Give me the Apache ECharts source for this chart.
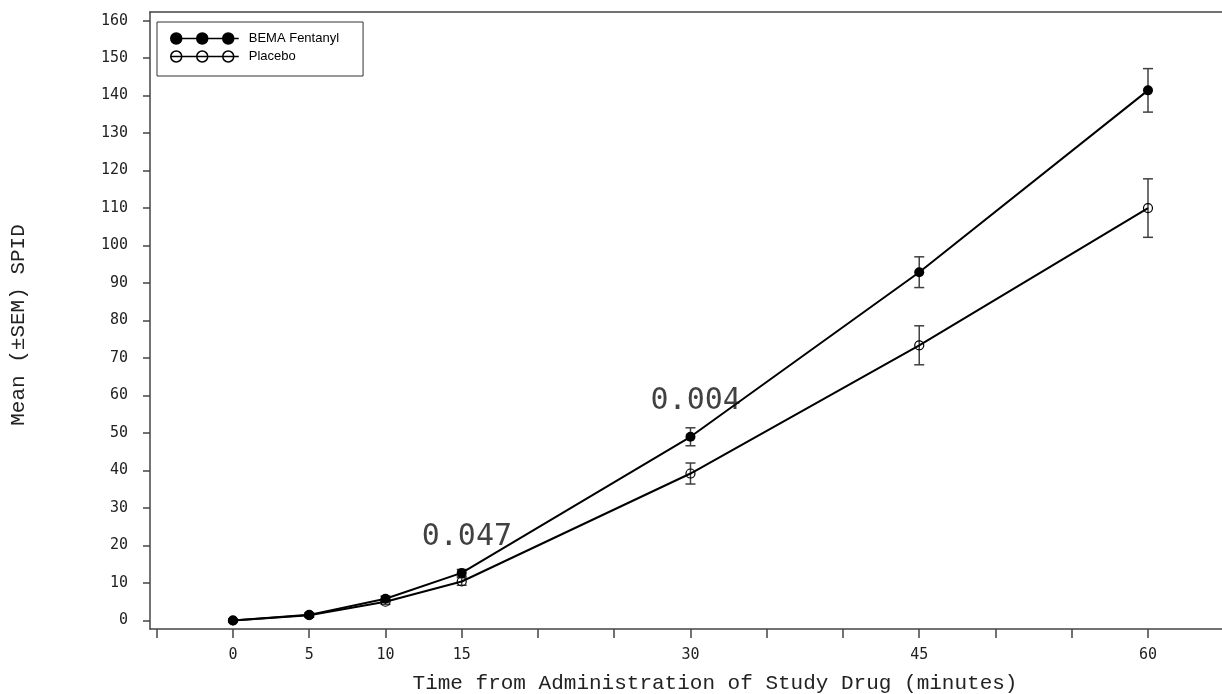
<!DOCTYPE html>
<html>
<head>
<meta charset="utf-8">
<script src="https://cdn.jsdelivr.net/npm/echarts@6/dist/echarts.min.js"></script>
<style>
  html, body { margin: 0; padding: 0; background: #fff; }
  #chart { width: 1222px; height: 694px; }
</style>
</head>
<body>
<div id="chart"></div>
<script>
// values
const seriesNames = ['BEMA Fentanyl', 'Placebo'];
const timePoints = [0, 5, 10, 15, 30, 45, 60];
const bemaMean = [0, 1.5, 5.8, 12.7, 49.0, 92.9, 141.4];
const bemaSem = [0.3, 0.5, 0.7, 0.9, 2.4, 4.1, 5.8];
const placeboMean = [0, 1.4, 5.0, 10.4, 39.2, 73.4, 110.0];
const placeboSem = [0.3, 0.5, 0.7, 1.0, 2.8, 5.2, 7.8];

const xTickValues = [-5, 0, 5, 10, 15, 20, 25, 30, 35, 40, 45, 50, 55, 60];
const xLabelValues = [0, 5, 10, 15, 30, 45, 60];
const yTickValues = [0, 10, 20, 30, 40, 50, 60, 70, 80, 90, 100, 110, 120, 130, 140, 150, 160];

// p-value annotations
const pValueX = [15.34, 30.34];
const pValueY = [22.3, 58.6];
const pValueText = ['0.047', '0.004'];

const axisColor = '#444';
const monoFont = 'DejaVu Sans Mono';
const titleFont = 'Liberation Mono';
const xMin = -5.44;
const xMax = 65.05;

const legendIcon = 'path://M0,5.5L68,5.5' +
  'M0,5.5A5.5,5.5,0,1,0,11,5.5A5.5,5.5,0,1,0,0,5.5Z' +
  'M26,5.5A5.5,5.5,0,1,0,37,5.5A5.5,5.5,0,1,0,26,5.5Z' +
  'M52,5.5A5.5,5.5,0,1,0,63,5.5A5.5,5.5,0,1,0,52,5.5Z';

function errorBars(means, sems) {
  return {
    type: 'custom',
    silent: true,
    z: 1,
    encode: { x: 0, y: [1, 2] },
    renderItem: (params, api) => {
      const x = api.value(0);
      const lo = api.coord([x, api.value(1)]);
      const hi = api.coord([x, api.value(2)]);
      const cap = 5;
      const style = { stroke: '#404040', lineWidth: 1.5 };
      return {
        type: 'group',
        children: [
          { type: 'line', shape: { x1: lo[0], y1: lo[1], x2: hi[0], y2: hi[1] }, style },
          { type: 'line', shape: { x1: lo[0] - cap, y1: lo[1], x2: lo[0] + cap, y2: lo[1] }, style },
          { type: 'line', shape: { x1: hi[0] - cap, y1: hi[1], x2: hi[0] + cap, y2: hi[1] }, style }
        ]
      };
    },
    data: timePoints.map((t, i) => [t, means[i] - sems[i], means[i] + sems[i]])
  };
}

const chart = echarts.init(document.getElementById('chart'));

chart.setOption({
  animation: false,
  backgroundColor: '#fff',
  grid: { left: 150, top: 12, right: -3, bottom: 65, show: false, outerBoundsMode: 'none' },
  legend: {
    left: 157, top: 22,
    orient: 'vertical',
    padding: [10, 24, 13, 13],
    itemGap: 5,
    itemWidth: 68,
    itemHeight: 11,
    symbolKeepAspect: false,
    borderColor: '#333',
    borderWidth: 1,
    backgroundColor: '#fff',
    textStyle: { fontFamily: 'Liberation Sans', fontSize: 13, color: '#000', padding: [0, 0, 0, 5], lineHeight: 12 },
    data: [
      { name: seriesNames[0], icon: legendIcon, itemStyle: { color: '#000', borderColor: '#000', borderWidth: 1.5 } },
      { name: seriesNames[1], icon: legendIcon, itemStyle: { color: '#fff', borderColor: '#000', borderWidth: 1.5 } }
    ]
  },
  xAxis: [{
    type: 'value',
    min: xMin,
    max: xMax,
    name: 'Time from Administration of Study Drug (minutes)',
    nameLocation: 'middle',
    nameGap: 44,
    nameTextStyle: { fontFamily: titleFont, fontSize: 21, color: '#222', padding: [0, 0, 0, 55] },
    axisLine: { show: true, onZero: false, lineStyle: { color: axisColor, width: 1.5 } },
    axisTick: { show: true, length: 9, customValues: xTickValues, lineStyle: { color: axisColor, width: 1.5 } },
    axisLabel: { customValues: xLabelValues, margin: 19, fontFamily: monoFont, fontSize: 15, color: '#222' },
    splitLine: { show: false }
  }, {
    // top frame line
    type: 'value',
    position: 'top',
    min: xMin,
    max: xMax,
    axisLine: { show: true, onZero: false, lineStyle: { color: axisColor, width: 1.5 } },
    axisTick: { show: false },
    axisLabel: { show: false },
    splitLine: { show: false }
  }],
  yAxis: {
    type: 'value',
    min: -2.27,
    max: 162.3,
    name: 'Mean (±SEM) SPID',
    nameLocation: 'middle',
    nameGap: 121,
    nameTextStyle: { fontFamily: titleFont, fontSize: 21, color: '#222', padding: [0, 9, 0, 0] },
    axisLine: { show: true, onZero: false, lineStyle: { color: axisColor, width: 1.5 } },
    axisTick: { show: true, length: 7, customValues: yTickValues, lineStyle: { color: axisColor, width: 1.5 } },
    axisLabel: { customValues: yTickValues, margin: 22, padding: [4, 0, 0, 0], fontFamily: monoFont, fontSize: 15, color: '#222' },
    splitLine: { show: false }
  },
  series: [
    errorBars(placeboMean, placeboSem),
    errorBars(bemaMean, bemaSem),
    {
      name: seriesNames[1],
      type: 'line',
      z: 3,
      data: timePoints.map((t, i) => [t, placeboMean[i]]),
      symbol: 'circle',
      symbolSize: 9,
      itemStyle: { color: 'rgba(0,0,0,0)', borderColor: '#000', borderWidth: 1.2 },
      lineStyle: { color: '#000', width: 2 }
    },
    {
      name: seriesNames[0],
      type: 'line',
      z: 4,
      data: timePoints.map((t, i) => [t, bemaMean[i]]),
      symbol: 'circle',
      symbolSize: 10,
      itemStyle: { color: '#000' },
      lineStyle: { color: '#000', width: 2 }
    },
    {
      type: 'scatter',
      silent: true,
      z: 5,
      symbolSize: 1,
      itemStyle: { color: 'rgba(0,0,0,0)' },
      label: {
        show: true,
        position: 'inside',
        formatter: (p) => p.value[2],
        fontFamily: monoFont,
        fontSize: 30,
        color: '#111'
      },
      data: pValueX.map((x, i) => [x, pValueY[i], pValueText[i]])
    }
  ]
});
</script>
</body>
</html>
